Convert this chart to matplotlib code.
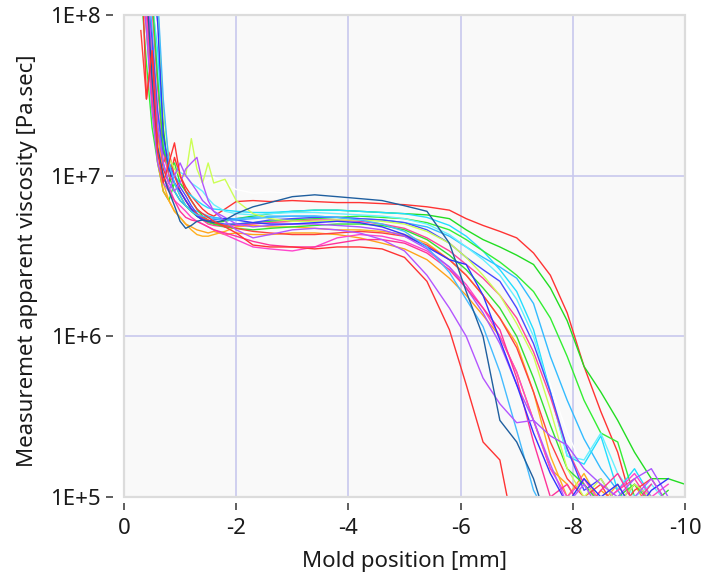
import matplotlib
matplotlib.use("Agg")
from matplotlib import pyplot as plt
from matplotlib.patches import Rectangle
import numpy as np

plt.rcParams["font.family"] = ["Noto Sans", "DejaVu Sans"]
plt.rcParams["axes.unicode_minus"] = False

N = None

# mold position [mm], shared by all runs
x_mm = [-0.3, -0.4, -0.5, -0.6, -0.7, -0.8, -0.9, -1.0, -1.1, -1.2,
        -1.3, -1.4, -1.5, -1.6, -1.8, -2.0, -2.3, -2.6, -3.0, -3.4,
        -3.8, -4.2, -4.6, -5.0, -5.4, -5.8, -6.1, -6.4, -6.7, -7.0,
        -7.3, -7.6, -7.9, -8.2, -8.5, -8.8, -9.1, -9.4, -9.7, -10.0]

# apparent viscosity per run, in 1E+6 Pa.sec
white_run = [N, 200, 60, 20, 12, 10, 9, 8.5, 8, 8,
             8.5, 9, 9.5, 9.8, 9, 8.2, 7.8, 7.9, 7.8, 7.6,
             7.4, 7.2, 7.0, 6.6, 5.8, 4.8, 3.8, 3.0, 2.3, 1.6,
             1.0, 0.5, 0.25, 0.15, 0.1, N, N, N, N, N]
red_late = [250, 120, 40, 18, 11, 9, 13, 10, 8.5, 7.5,
            6.8, 6.2, 5.8, 5.6, 6.2, 6.9, 7.0, 6.9, 7.0, 6.9,
            6.8, 6.8, 6.7, 6.6, 6.4, 6.1, 5.4, 4.9, 4.5, 4.1,
            3.3, 2.4, 1.4, 0.65, 0.34, 0.19, 0.08, N, N, N]
green_late = [300, 250, 200, 110, 20, 10, 8, 7, 6.5, 6,
              5.6, 5.4, 5.2, 5.1, 5.2, 5.4, 5.6, 5.8, 6.0, 6.1,
              6.1, 6.0, 5.9, 5.8, 5.7, 5.4, 4.6, 4.0, 3.6, 3.2,
              2.8, 2.0, 1.25, 0.65, 0.45, 0.3, 0.19, 0.13, 0.13, 0.12]
green_mid = [150, 50, 20, 12, 8, 7, 9, 7.5, 6.5, 6,
             5.6, 5.3, 5.1, 5.0, 4.9, 5.0, 5.1, 5.2, 5.3, 5.4,
             5.5, 5.6, 5.5, 5.4, 5.1, 4.6, 4.0, 3.4, 2.9, 2.4,
             1.9, 1.3, 0.75, 0.4, 0.25, 0.22, 0.1, 0.08, N, N]
light_blue_late = [400, 250, 80, 25, 12, 9, 8, 7, 6.5, 6.2,
                   6.0, 5.8, 5.6, 5.5, 5.4, 5.4, 5.5, 5.6, 5.6, 5.6,
                   5.5, 5.4, 5.3, 5.1, 4.8, 4.2, 3.6, 3.1, 2.7, 2.3,
                   1.6, 0.75, 0.4, 0.23, 0.15, 0.11, 0.08, N, N, N]
cyan_run = [200, 150, 120, 60, 16, 11, 10, 9, 8, 7.5,
            7, 6.6, 6.3, 6.2, 6.1, 6.0, 5.9, 5.9, 6.0, 6.1,
            6.1, 6.0, 5.9, 5.8, 5.5, 4.9, 4.2, 3.4, 2.6, 1.9,
            1.1, 0.45, 0.18, 0.16, 0.24, 0.11, 0.15, 0.1, N, N]
red_early = [300, 30, 60, 14, 9, 12, 16, 10, 8, 7,
             6.2, 5.8, 5.5, 5.2, 4.8, 4.4, 3.7, 3.6, 3.6, 3.5,
             3.6, 3.6, 3.5, 3.1, 2.2, 1.1, 0.5, 0.22, 0.17, 0.05,
             N, N, N, N, N, N, N, N, N, N]
steel_blue = [300, 150, 40, 15, 10, 8, 6.5, 5.2, 4.7, 4.9,
              5.2, 5.3, 5.2, 5.1, 5.3, 5.8, 6.4, 6.8, 7.4, 7.6,
              7.4, 7.2, 7.0, 6.5, 6.0, 3.8, 1.9, 1.0, 0.3, 0.22,
              0.13, 0.06, N, N, N, N, N, N, N, N]
purple_early = [300, 200, 50, 20, 12, 9, 8, 9, 11, 12,
                13, 9, 7, 6, 5.2, 4.6, 4.1, 4.3, 4.6, 4.7,
                4.6, 4.4, 4.0, 3.4, 2.4, 1.5, 1.0, 0.55, 0.38, 0.29,
                0.3, 0.16, 0.09, 0.12, 0.08, 0.07, 0.1, 0.13, 0.09, N]
pink_low = [300, 150, 30, 14, 10, 8, 7, 6, 5.5, 5.3,
            5.2, 5.0, 4.8, 4.6, 4.4, 4.2, 3.9, 3.7, 3.6, 3.6,
            3.8, 4.0, 4.0, 3.8, 3.3, 2.6, 2.0, 1.5, 1.1, 0.55,
            0.22, 0.1, 0.12, 0.08, 0.11, 0.14, 0.09, 0.12, N, N]
orange_run = [200, 80, 30, 12, 8, 7, 6, 5.5, 5, 4.8,
              4.6, 4.5, 4.4, 4.5, 4.3, 4.4, 4.3, 4.3, 4.4, 4.4,
              4.3, 4.1, 3.8, 3.5, 3.0, 2.3, 1.8, 1.35, 1.0, 0.6,
              0.3, 0.15, 0.12, 0.08, 0.11, 0.09, 0.12, 0.08, N, N]
orange_run2 = [200, 150, 60, 20, 9, 7, 6, 5.5, 5, 4.6,
               4.3, 4.2, 4.2, 4.3, 4.5, 4.8, 4.9, 4.8, 4.8, 4.7,
               4.6, 4.6, 4.5, 4.3, 3.8, 3.0, 2.4, 1.8, 1.3, 0.9,
               0.45, 0.18, 0.1, 0.14, 0.09, 0.12, 0.08, N, N, N]
blue_run = [400, 300, 180, 90, 18, 11, 9, 8, 7, 6.2,
            5.6, 5.3, 5.2, 5.3, 5.4, 5.3, 5.1, 5.0, 5.0, 5.1,
            5.2, 5.1, 4.8, 4.3, 3.6, 3.0, 2.8, 1.8, 0.95, 0.5,
            0.25, 0.14, 0.09, 0.13, 0.1, 0.12, 0.08, 0.11, 0.13, N]
blue_run2 = [250, 150, 70, 25, 14, 12, 10, 8.5, 7.5, 6.5,
             5.8, 5.4, 5.2, 5.1, 5.0, 5.0, 5.1, 5.3, 5.4, 5.5,
             5.5, 5.4, 5.3, 5.1, 4.6, 3.8, 3.1, 2.6, 2.2, 1.5,
             0.9, 0.45, 0.2, 0.11, 0.13, 0.09, 0.12, 0.1, 0.08, N]
pink_mid = [300, 200, 110, 35, 14, 10, 9, 8, 7, 6.2,
            5.7, 5.3, 5.0, 4.9, 4.8, 4.9, 5.0, 5.1, 5.2, 5.3,
            5.3, 5.2, 5.0, 4.7, 4.1, 3.4, 2.8, 2.3, 1.8, 1.3,
            0.8, 0.42, 0.2, 0.12, 0.09, 0.11, 0.13, 0.09, N, N]
yellow_green = [500, 300, 200, 120, 25, 13, 11, 10, 10, 17,
                11, 9, 12, 9, 9.5, 7, 5.8, 5.4, 5.2, 5.2,
                5.3, 5.3, 5.2, 5.0, 4.5, 3.8, 3.1, 2.4, 1.8, 1.2,
                0.75, 0.35, 0.15, 0.1, 0.13, 0.09, 0.12, 0.1, N, N]
light_cyan = [350, 250, 150, 45, 16, 12, 11, 10.5, 10, 9,
              8.5, 8, 7.2, 6.6, 6.0, 5.8, 5.7, 5.8, 5.9, 5.9,
              5.8, 5.7, 5.6, 5.4, 5.0, 4.3, 3.6, 3.0, 2.4, 1.7,
              1.0, 0.45, 0.18, 0.17, 0.25, 0.14, 0.1, 0.12, 0.09, N]
purple_run2 = [200, 80, 25, 12, 9, 8, 10, 12, 10, 9,
               8, 7, 6.5, 6, 5.5, 5.0, 4.8, 4.9, 5.0, 5.0,
               4.9, 4.8, 4.6, 4.2, 3.5, 2.7, 2.0, 1.4, 0.9, 0.5,
               0.3, 0.24, 0.21, 0.15, 0.12, 0.1, 0.13, 0.15, 0.1, N]
hot_pink = [300, 100, 35, 15, 10, 8.5, 7, 6.5, 6, 5.5,
            5.2, 5.0, 4.8, 4.6, 4.3, 4.0, 3.6, 3.5, 3.4, 3.6,
            4.1, 4.3, 4.2, 3.9, 3.4, 2.7, 2.1, 1.5, 1.0, 0.6,
            0.3, 0.15, 0.1, 0.13, 0.09, 0.11, 0.14, 0.1, 0.12, N]
green_run3 = [300, 200, 130, 40, 15, 11, 12, 9, 8, 7,
              6.2, 5.6, 5.3, 5.0, 4.8, 4.7, 4.6, 4.7, 4.8, 4.9,
              5.0, 5.0, 4.9, 4.6, 4.0, 3.2, 2.6, 2.0, 1.5, 1.0,
              0.55, 0.28, 0.15, 0.12, 0.09, 0.1, 0.12, 0.09, 0.11, N]
red_mid = [80, 30, 60, 20, 12, 14, 10, 8, 7, 6.2,
           5.8, 5.5, 5.3, 5.1, 4.9, 4.7, 4.5, 4.4, 4.3, 4.3,
           4.4, 4.5, 4.4, 4.2, 3.7, 3.0, 2.4, 1.8, 1.3, 0.85,
           0.45, 0.22, 0.13, 0.1, 0.12, 0.08, 0.11, 0.13, 0.09, N]
light_blue_early = [400, 300, 200, 130, 30, 12, 9, 7.5, 6.5, 6,
                    5.7, 5.6, 5.5, 5.4, 5.3, 5.3, 5.4, 5.5, 5.6, 5.6,
                    5.5, 5.3, 5.0, 4.5, 3.6, 2.5, 1.7, 1.15, 0.6, 0.26,
                    0.11, 0.07, N, N, N, N, N, N, N, N]

x_ticks = [0, -2, -4, -6, -8, -10]
x_tick_labels = ["0", "-2", "-4", "-6", "-8", "-10"]
y_ticks = [1e5, 1e6, 1e7, 1e8]
y_tick_labels = ["1E+5", "1E+6", "1E+7", "1E+8"]

runs = [
    (white_run, "#ffffff"),
    (red_late, "#ff3333"),
    (green_late, "#22dd22"),
    (light_blue_late, "#33bbff"),
    (cyan_run, "#22ddff"),
    (green_mid, "#33ee33"),
    (light_cyan, "#66f0ff"),
    (orange_run, "#ffa31a"),
    (orange_run2, "#ffb020"),
    (pink_mid, "#ff4499"),
    (hot_pink, "#ff44cc"),
    (blue_run2, "#4a4aff"),
    (green_run3, "#33e033"),
    (red_mid, "#ff4040"),
    (yellow_green, "#ccff55"),
    (purple_run2, "#aa55ff"),
    (pink_low, "#ff3399"),
    (blue_run, "#3333ff"),
    (light_blue_early, "#44bbff"),
    (purple_early, "#b455ff"),
    (steel_blue, "#1f5f9f"),
    (red_early, "#ff3333"),
]

fig = plt.figure(figsize=(7.05, 5.82), dpi=100)
ax = fig.add_axes([124 / 705, 1 - 497 / 582, 561 / 705, 482 / 582])
ax.set_facecolor("#f9f9f9")

x = np.array(x_mm)
for values, color in runs:
    y = np.array(values, dtype=float) * 1e6
    ax.plot(x, y, color=color, lw=1.0)

ax.set_yscale("log")
ax.set_xlim(0, -10)
ax.set_ylim(1e5, 1e8)

ax.set_xticks(x_ticks)
ax.set_xticklabels(x_tick_labels)
ax.set_yticks(y_ticks)
ax.set_yticklabels(y_tick_labels)
ax.yaxis.set_minor_locator(plt.NullLocator())

for s in ax.spines.values():
    s.set_visible(False)
ax.spines["left"].set_position(("outward", 8))
ax.spines["bottom"].set_position(("outward", 4))

ax.tick_params(axis="both", which="major", length=5, width=1.1,
               color="#333333", labelsize=16, labelcolor="#1a1a1a")
ax.tick_params(axis="y", pad=3.5)
ax.tick_params(axis="x", pad=6)

ax.grid(True, color="#c8c8ee", lw=1.2)
ax.set_axisbelow(True)
for t in ax.xaxis.get_major_ticks()[::5]:
    t.gridline.set_visible(False)
for t in ax.yaxis.get_major_ticks()[::3]:
    t.gridline.set_visible(False)

ax.add_patch(Rectangle((0, 0), 1, 1, transform=ax.transAxes, fill=False,
                       ec="#dcdcdc", lw=1.6, zorder=5, clip_on=False))

ax.set_xlabel("Mold position [mm]", fontsize=16, color="#1a1a1a")
ax.set_ylabel("Measuremet apparent viscosity [Pa.sec]", fontsize=16,
              color="#1a1a1a")
ax.xaxis.set_label_coords(0.5, -0.112)
ax.yaxis.set_label_coords(-0.153, 0.49)

fig.savefig("out.png", dpi=100)
